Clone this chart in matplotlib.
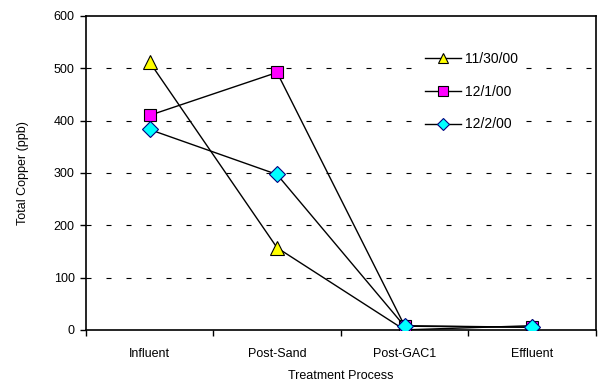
import numpy as np
import matplotlib.pyplot as plt

plt.rcParams['font.family'] = ['Liberation Sans', 'DejaVu Sans']

# Data
categories = ["Influent", "Post-Sand", "Post-GAC1", "Effluent"]
cu_1130 = [512, 157, 0, 8]
cu_1201 = [410, 492, 8, 5]
cu_1202 = [383, 297, 7, 5]

x = np.arange(len(categories))

fig = plt.figure(figsize=(6, 3.89), dpi=100)
ax = fig.add_axes([0.143, 0.152, 0.850, 0.807])

ax.plot(x, cu_1130, color="black", lw=1, marker="^", ms=10,
        mfc="#ffff00", mec="black", mew=0.8, label="11/30/00", zorder=3)
ax.plot(x, cu_1201, color="black", lw=1, marker="s", ms=9,
        mfc="#ff00ff", mec="black", mew=0.8, label="12/1/00", zorder=4)
ax.plot(x, cu_1202, color="black", lw=1, marker="D", ms=8,
        mfc="#00ffff", mec="#000080", mew=0.8, label="12/2/00", zorder=5)

ax.set_xlim(-0.5, 3.5)
ax.set_ylim(0, 600)
ax.set_yticks(np.arange(0, 601, 100))
ax.set_xticks(x)
ax.set_xticklabels(categories)
ax.set_xticks(np.arange(-0.5, 3.6, 1), minor=True)
ax.tick_params(axis="x", which="major", length=0, pad=13, labelsize=9)
ax.tick_params(axis="x", which="minor", length=4, width=1, direction="out")
ax.tick_params(axis="y", length=4, width=1, labelsize=9, pad=4)

for yv in range(100, 600, 100):
    ax.axhline(yv, color="black", lw=0.8, ls=(0, (4.5, 13.5)), zorder=1)

for s in ax.spines.values():
    s.set_linewidth(1.2)

ax.set_ylabel("Total Copper (ppb)", fontsize=9, labelpad=18)
ax.set_xlabel("Treatment Process", fontsize=9, labelpad=7)

leg = ax.legend(loc="upper left", bbox_to_anchor=(0.64, 0.925), frameon=True,
                fontsize=10, handlelength=2.6, labelspacing=1.35,
                handletextpad=0.3, markerscale=0.75, fancybox=False,
                facecolor="white", edgecolor="none", framealpha=1)
leg.set_zorder(6)

fig.savefig("out.png", dpi=100)
